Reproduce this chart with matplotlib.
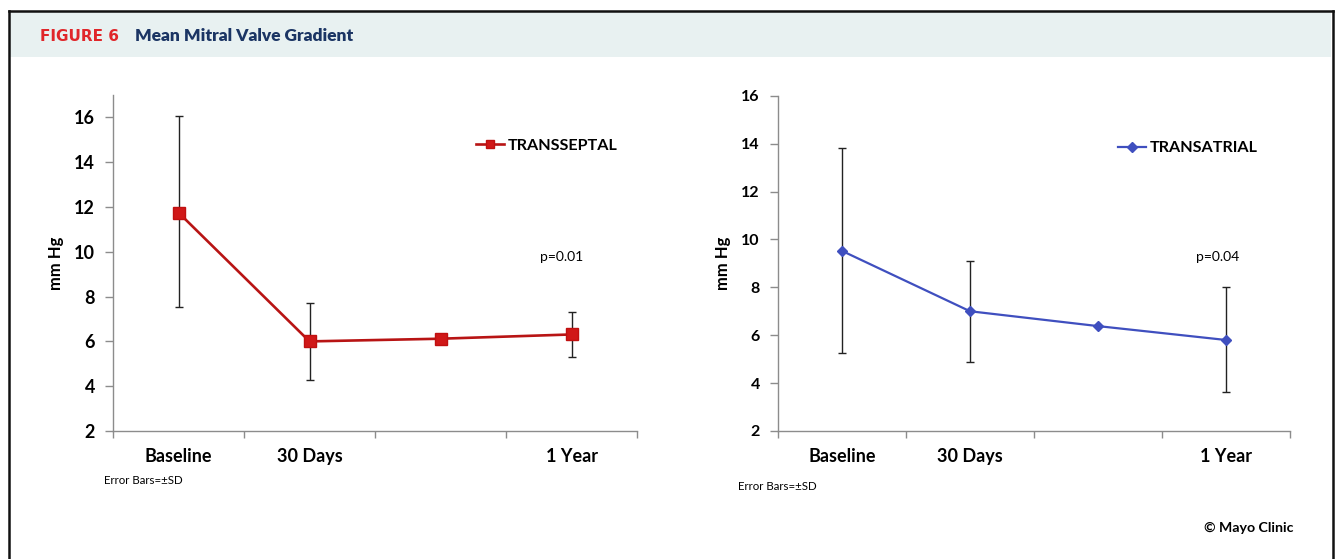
import matplotlib
matplotlib.use("Agg")
import matplotlib.pyplot as plt
from matplotlib.patches import Rectangle
from matplotlib.lines import Line2D

plt.rcParams['font.family'] = ['Lato', 'DejaVu Sans']

W, H = 1336, 559
DPI = 100

# Data
categories = ["Baseline", "30 Days", "", "1 Year"]
septal_mean = [11.75, 6.0, 6.12, 6.31]
septal_low = [7.53, 4.29, None, 5.31]
septal_high = [16.07, 7.72, None, 7.32]

atrial_mean = [9.52, 7.0, 6.38, 5.8]
atrial_low = [5.24, 4.89, None, 3.62]
atrial_high = [13.8, 9.1, None, 8.03]


def fx(x):
    return x / W


def fy(y):
    return 1 - y / H


def box(x0, y0, x1, y1):
    return [fx(x0), fy(y1), fx(x1) - fx(x0), fy(y0) - fy(y1)]


fig = plt.figure(figsize=(W / DPI, H / DPI), dpi=DPI)
fig.patch.set_facecolor("white")

# Frame and header band
fig.add_artist(Rectangle((fx(10), fy(57)), fx(1331) - fx(10), fy(12) - fy(57),
                         transform=fig.transFigure, facecolor="#e8f1f1",
                         edgecolor="none", zorder=0))
for xs_, ys_ in (([8.5, 8.5], [10.5, H]), ([1332.5, 1332.5], [10.5, H]),
                 ([8.5, 1332.5], [10.5, 10.5])):
    fig.add_artist(Line2D([fx(v) for v in xs_], [fy(v) for v in ys_],
                          transform=fig.transFigure, color="#111111", lw=1.8))

fig.text(fx(40), fy(36.5), "FIGURE 6", color="#e0262a", fontsize=11,
         fontweight="bold", va="center", ha="left", family=["DejaVu Sans"])
fig.text(fx(135), fy(36), "Mean Mitral Valve Gradient", color="#1b3564",
         fontsize=12.5, fontweight="heavy", va="center", ha="left")


def error_arrays(mean, low, high):
    xs, ys, lo, hi = [], [], [], []
    for i, (m, l, h) in enumerate(zip(mean, low, high)):
        if l is None:
            continue
        xs.append(i)
        ys.append(m)
        lo.append(m - l)
        hi.append(h - m)
    return xs, ys, [lo, hi]


def style_axes(ax, ymax, ytick_size, ypad):
    ax.set_xlim(-0.5, 3.5)
    ax.set_ylim(2, ymax)
    for s in ("top", "right"):
        ax.spines[s].set_visible(False)
    for s in ("left", "bottom"):
        ax.spines[s].set_color("#8c8c8c")
        ax.spines[s].set_linewidth(1.0)
    ax.set_yticks(range(2, 17, 2))
    ax.tick_params(axis="y", which="major", length=6, width=1.0, color="#8c8c8c",
                   labelsize=ytick_size, pad=ypad)
    for lab in ax.get_yticklabels():
        lab.set_fontweight("bold")
    ax.set_xticks([-0.5, 0.5, 1.5, 2.5, 3.5])
    ax.set_xticklabels([])
    ax.tick_params(axis="x", which="major", length=5, width=1.0, color="#8c8c8c")
    ax.set_xticks([0, 1, 2, 3], minor=True)
    ax.set_xticklabels(categories, minor=True, fontsize=13, fontweight="bold")
    ax.tick_params(axis="x", which="minor", length=0, pad=12)
    ax.set_ylabel("mm Hg", fontsize=12, fontweight="bold")
    ax.patch.set_alpha(0)


# Left panel: transseptal
L0, L1 = 113, 637
ax1 = fig.add_axes(box(L0, 95, L1, 431))
style_axes(ax1, 17, 13, 7)
xs, ys, err = error_arrays(septal_mean, septal_low, septal_high)
ax1.errorbar(xs, ys, yerr=err, fmt="none", ecolor="#222222", elinewidth=1.0,
             capsize=2.6, capthick=1.0, zorder=2)
ax1.plot(range(4), septal_mean, color="#b81414", lw=1.9, marker="s", markersize=8.5,
         markerfacecolor="#d01818", markeredgecolor="#c01010", zorder=3,
         label="TRANSSEPTAL")
fig.text(fx(562), fy(257), "p=0.01", fontsize=10, ha="center", va="center")
ax1.legend(loc="center left", bbox_to_anchor=(fx(476), fy(146)),
           bbox_transform=fig.transFigure, frameon=False, handlelength=1.75,
           handletextpad=0.2, borderaxespad=0, borderpad=0, markerscale=0.75,
           prop={"size": 11.6, "weight": "bold"})
ax1.yaxis.set_label_coords((64 - L0) / (L1 - L0), 0.5)

# Right panel: transatrial
R0, R1 = 778, 1290
ax2 = fig.add_axes(box(R0, 95.7, R1, 431))
style_axes(ax2, 16, 11.5, 7)
xs, ys, err = error_arrays(atrial_mean, atrial_low, atrial_high)
ax2.errorbar(xs, ys, yerr=err, fmt="none", ecolor="#222222", elinewidth=1.0,
             capsize=2.6, capthick=1.0, zorder=2)
ax2.plot(range(4), atrial_mean, color="#3f4fbf", lw=1.6, marker="D", markersize=5.5,
         markerfacecolor="#3f4fbf", markeredgecolor="#3f4fbf", zorder=3,
         label="TRANSATRIAL")
fig.text(fx(1218), fy(257), "p=0.04", fontsize=10, ha="center", va="center")
ax2.legend(loc="center left", bbox_to_anchor=(fx(1118), fy(148)),
           bbox_transform=fig.transFigure, frameon=False, handlelength=1.75,
           handletextpad=0.2, borderaxespad=0, borderpad=0,
           prop={"size": 11.6, "weight": "bold"})
ax2.yaxis.set_label_coords((731 - R0) / (R1 - R0), 0.5)

fig.text(fx(104), fy(481), "Error Bars=±SD", fontsize=8.3, ha="left", va="center")
fig.text(fx(738), fy(487), "Error Bars=±SD", fontsize=8.3, ha="left", va="center")
fig.text(fx(1293), fy(528), "© Mayo Clinic", fontsize=10.2, fontweight="bold",
         ha="right", va="center")

fig.savefig("out.png", dpi=DPI)
